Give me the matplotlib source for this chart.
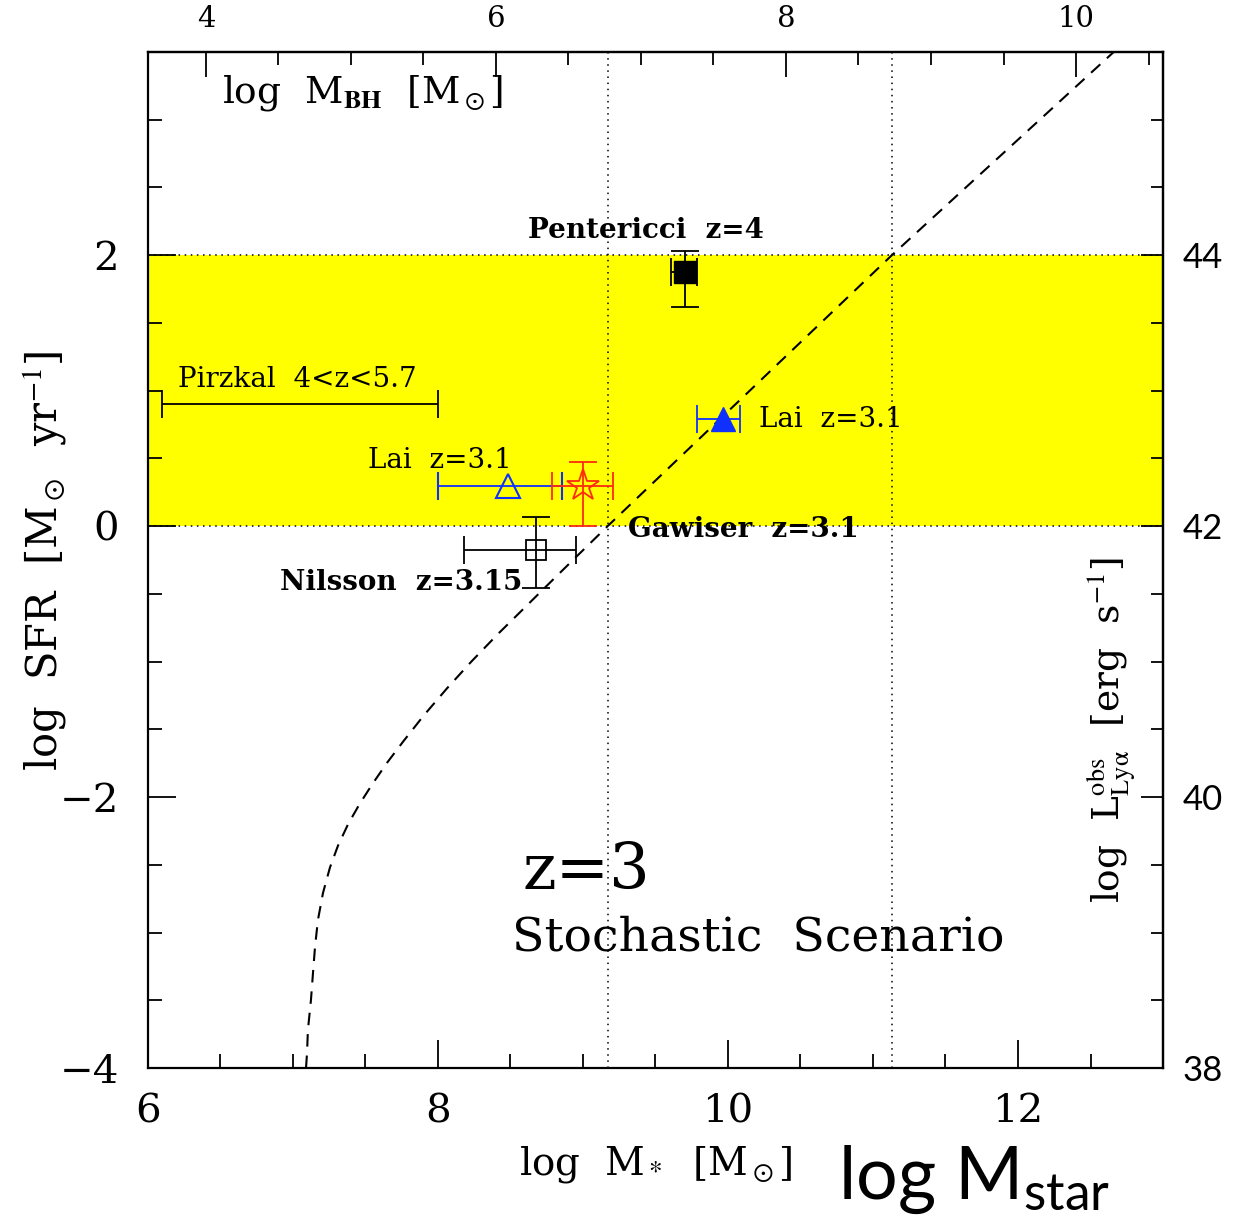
import numpy as np
import matplotlib.pyplot as plt
from matplotlib.ticker import MultipleLocator, FixedLocator

plt.rcParams["font.family"] = ["DejaVu Serif"]
plt.rcParams["mathtext.fontset"] = "custom"
plt.rcParams["mathtext.rm"] = "Lato"
plt.rcParams["mathtext.it"] = "Lato:italic"
plt.rcParams["mathtext.bf"] = "Lato:bold"

# model track (stochastic scenario), log M* vs log SFR
track_mstar = [7.090, 7.097, 7.103, 7.124, 7.138, 7.152, 7.172, 7.207, 7.255,
               7.31, 7.38, 7.46, 7.55, 7.65, 7.76, 7.90, 8.06, 8.23, 8.41,
               8.59, 8.76, 8.95, 9.17, 10.15, 11.13, 12.66]
track_sfr = [-4.0, -3.889, -3.720, -3.498, -3.299, -3.107, -2.908, -2.708, -2.52,
             -2.36, -2.20, -2.05, -1.90, -1.745, -1.59, -1.40, -1.20, -1.00, -0.80,
             -0.61, -0.43, -0.23, 0.0, 1.0, 2.0, 3.5]

# observed samples: x, y, x errors (lo, hi), y errors (lo, hi)
pent_x, pent_y = 9.703, 1.875
pent_xerr = [[0.096], [0.083]]
pent_yerr = [[0.259], [0.155]]

lai_hi_x, lai_hi_y = 9.966, 0.79
lai_hi_xerr = [[0.18], [0.114]]

lai_lo_x, lai_lo_y = 8.483, 0.30
lai_lo_xerr = [[0.483], [0.372]]

gaw_x, gaw_y = 9.0, 0.30
gaw_xerr = [[0.214], [0.207]]
gaw_yerr = [[0.30], [0.17]]

nil_x, nil_y = 8.676, -0.177
nil_xerr = [[0.496], [0.276]]
nil_yerr = [[0.281], [0.243]]

pirz_x, pirz_y = 7.05, 0.90
pirz_xerr = 0.95

# Lya band and mass limits
band_lo, band_hi = 0.0, 2.0
mass_lines = [9.17, 11.13]
bh_offset = 2.4
lya_offset = 42.0
bh_ticks = [4, 6, 8, 10]
lya_ticks = [38, 40, 42, 44]

BLUE = "#1030FF"
RED = "#FF2A10"
YELLOW = "#FFFF00"

fig = plt.figure(figsize=(12.55, 12.21), dpi=100)
ax = fig.add_axes([0.1179, 0.1253, 0.8088, 0.8321])
ax.set_xlim(6, 13)
ax.set_ylim(-4, 3.5)

ax.axhspan(band_lo, band_hi, color=YELLOW, lw=0, zorder=0)
for yv in (band_lo, band_hi):
    ax.axhline(yv, color="k", lw=1.1, ls=(0, (1, 3)), zorder=1)
for xv in mass_lines:
    ax.axvline(xv, color="k", lw=1.1, ls=(0, (1, 3)), zorder=1)

ax.plot(track_mstar, track_sfr, color="k", lw=1.5, ls=(0, (6, 4.3)), zorder=2)

eb = dict(elinewidth=1.3, capsize=10, capthick=1.3, zorder=3)
ax.errorbar(pirz_x, pirz_y, xerr=pirz_xerr, fmt="none", ecolor="k", **eb)
ax.errorbar(pent_x, pent_y, xerr=pent_xerr, yerr=pent_yerr, fmt="s", color="k",
            ms=16, ecolor="k", **eb)
ax.errorbar(lai_hi_x, lai_hi_y, xerr=lai_hi_xerr, fmt="^", color=BLUE, ms=17,
            ecolor=BLUE, **eb)
ax.errorbar(lai_lo_x, lai_lo_y, xerr=lai_lo_xerr, fmt="^", mfc="none", mec=BLUE,
            mew=1.5, ms=17, ecolor=BLUE, **eb)
ax.errorbar(gaw_x, gaw_y, xerr=gaw_xerr, yerr=gaw_yerr, fmt="*", mfc="none",
            mec=RED, mew=1.3, ms=24, ecolor=RED, **eb)
ax.errorbar(nil_x, nil_y, xerr=nil_xerr, yerr=nil_yerr, fmt="s", mfc="none",
            mec="k", mew=1.3, ms=14, ecolor="k", **eb)

lab = dict(fontsize=20, va="baseline", ha="left", zorder=4)
ax.text(8.62, 2.13, "Pentericci  z=4", fontweight="bold", **lab)
ax.text(6.207, 1.026, "Pirzkal  4<z<5.7", **lab)
ax.text(7.517, 0.428, "Lai  z=3.1", **lab)
ax.text(10.214, 0.731, "Lai  z=3.1", **lab)
ax.text(9.31, -0.08, "Gawiser  z=3.1", fontweight="bold", **lab)
ax.text(6.91, -0.47, "Nilsson  z=3.15", fontweight="bold", **lab)

ax.text(8.58, -2.68, "z=3", fontsize=46, va="baseline")
ax.text(8.51, -3.13, "Stochastic  Scenario", fontsize=34, va="baseline")
ax.text(6.51, 3.196, r"log  M$_{\mathbf{BH}}$  [M$_\odot$]", fontsize=27,
        va="center", math_fontfamily="stix")

# bottom / left axes
ax.xaxis.set_major_locator(MultipleLocator(2))
ax.xaxis.set_minor_locator(MultipleLocator(0.5))
ax.yaxis.set_major_locator(MultipleLocator(2))
ax.yaxis.set_minor_locator(MultipleLocator(0.5))
ax.tick_params(which="both", direction="in", top=False, right=False, width=1.3)
ax.tick_params(which="major", length=20)
ax.tick_params(which="minor", length=10)
ax.tick_params(axis="x", which="major", labelsize=29, pad=18)
ax.tick_params(axis="y", which="major", labelsize=29, pad=21)
for sp in ax.spines.values():
    sp.set_linewidth(1.6)

# black hole mass on top
top = ax.secondary_xaxis("top", functions=(lambda m: m - bh_offset,
                                           lambda b: b + bh_offset))
top.xaxis.set_major_locator(FixedLocator(bh_ticks))
top.xaxis.set_minor_locator(FixedLocator(np.arange(4.0, 10.51, 0.5)))
top.tick_params(which="both", direction="in", width=1.3)
top.tick_params(which="major", length=18, labelsize=21, pad=14)
top.tick_params(which="minor", length=9)
top.spines["top"].set_linewidth(1.6)

# Lya luminosity on the right
right = ax.secondary_yaxis("right", functions=(lambda s: s + lya_offset,
                                               lambda l: l - lya_offset))
right.yaxis.set_major_locator(FixedLocator(lya_ticks))
right.yaxis.set_minor_locator(FixedLocator(np.arange(38.0, 45.51, 0.5)))
right.tick_params(which="both", direction="in", width=1.3)
right.tick_params(which="major", length=16, labelsize=25, pad=14)
right.tick_params(which="minor", length=8.5)
for t in right.get_yticklabels():
    t.set_fontfamily("Lato")
right.spines["right"].set_linewidth(1.6)

fig.text(0.036, 0.541, r"log  SFR  [M$_\odot$  yr$^{-1}$]", rotation=90,
         fontsize=30, ha="center", va="center", math_fontfamily="stix")
fig.text(0.885, 0.402, r"log  L$^{\rm obs}_{\rm Ly\alpha}$  [erg  s$^{-1}$]",
         rotation=90, fontsize=27, ha="center", va="center",
         math_fontfamily="stix")
fig.text(0.5227, 0.0459, r"log  M$_*$  [M$_\odot$]", fontsize=28,
         ha="center", va="center", math_fontfamily="stix")
fig.text(0.6677, 0.0185, r"log M$_{\rm star}$", fontsize=53, family="Lato",
         ha="left", va="baseline", math_fontfamily="custom")

fig.savefig("out.png", dpi=100)
